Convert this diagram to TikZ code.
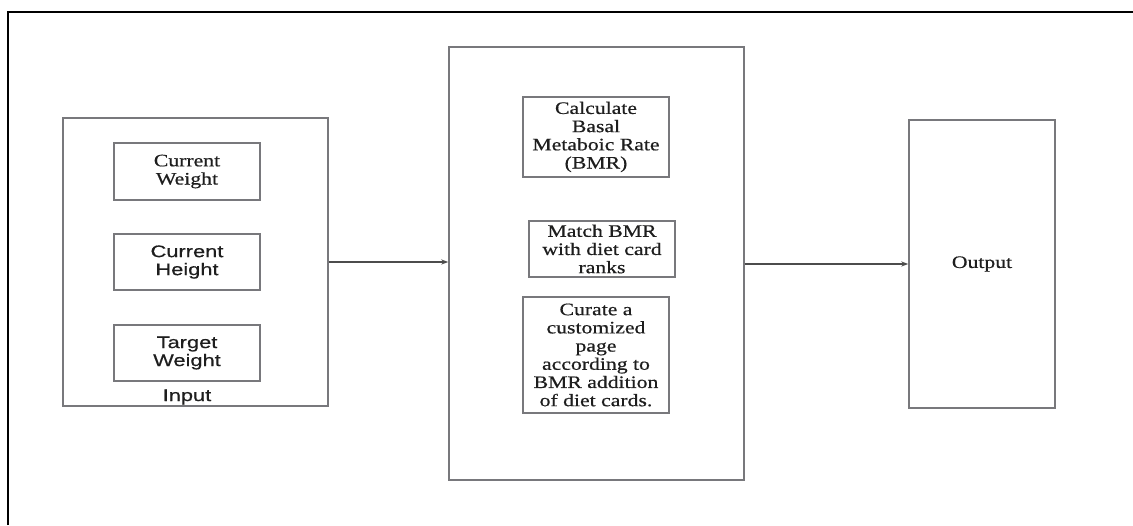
\documentclass[tikz,border=0pt]{standalone}
\usepackage{fontspec}
\newfontfamily\serx[FakeStretch=1.24,FakeBold=0.6]{Liberation Serif}
\newfontfamily\sanx[FakeStretch=1.3,FakeBold=0.5]{Liberation Sans}
\usetikzlibrary{arrows.meta}
\definecolor{boxgray}{RGB}{120,120,124}
\definecolor{txt}{RGB}{30,30,30}
\tikzset{
  frame/.style={draw=black,line width=2pt},
  bigbox/.style={draw=boxgray,line width=1.4pt,rectangle,inner sep=0pt},
  smallbox/.style={draw=boxgray,line width=1.4pt,rectangle,inner sep=0pt,align=center,text=txt,minimum width=146pt},
  sertext/.style={font=\serx\fontsize{17.5}{18.2}\selectfont},
  santext/.style={font=\sanx\fontsize{16.8}{18}\selectfont},
  flow/.style={draw=boxgray,line width=1.2pt,-{Stealth[length=7pt,width=5pt]},color=black!70}
}
\begin{document}
\begin{tikzpicture}[x=1pt,y=-1pt]
\useasboundingbox (0,0) rectangle (1133,525);
\coordinate (fa) at (8,525);
\coordinate (fb) at (8,12);
\coordinate (fc) at (1133,12);
\draw[frame] (fa) -- (fb) -- (fc);

% input
\node[bigbox,minimum width=265pt,minimum height=288pt] (input) at (195.5,262) {};
\node[smallbox,sertext,minimum height=57pt] (cw) at (187,171.5) {Current\\Weight};
\node[smallbox,santext,minimum height=56pt] (ch) at (187,262) {Current\\Height};
\node[smallbox,santext,minimum height=56pt] (tw) at (187,353) {Target\\Weight};
\node[santext,text=txt,inner sep=0pt] (inlabel) at (187,397) {Input};

% middle
\node[bigbox,minimum width=295pt,minimum height=433pt] (mid) at (596.5,263.5) {};
\node[smallbox,sertext,minimum height=80pt] (calc) at (596,137) {Calculate\\Basal\\Metaboic Rate\\(BMR)};
\node[smallbox,sertext,minimum height=56pt] (match) at (602,249) {Match BMR\\with diet card\\ranks};
\node[smallbox,sertext,minimum height=116pt] (curate) at (596,355) {Curate a\\customized\\page\\according to\\BMR addition\\of diet cards.};

% output
\node[bigbox,sertext,text=txt,minimum width=146pt,minimum height=288pt] (out) at (982,264) {Output};

\draw[flow] (input.east) -- (input.east -| mid.west);
\draw[flow] (mid.east |- out.west) -- (out.west);
\end{tikzpicture}
\end{document}
